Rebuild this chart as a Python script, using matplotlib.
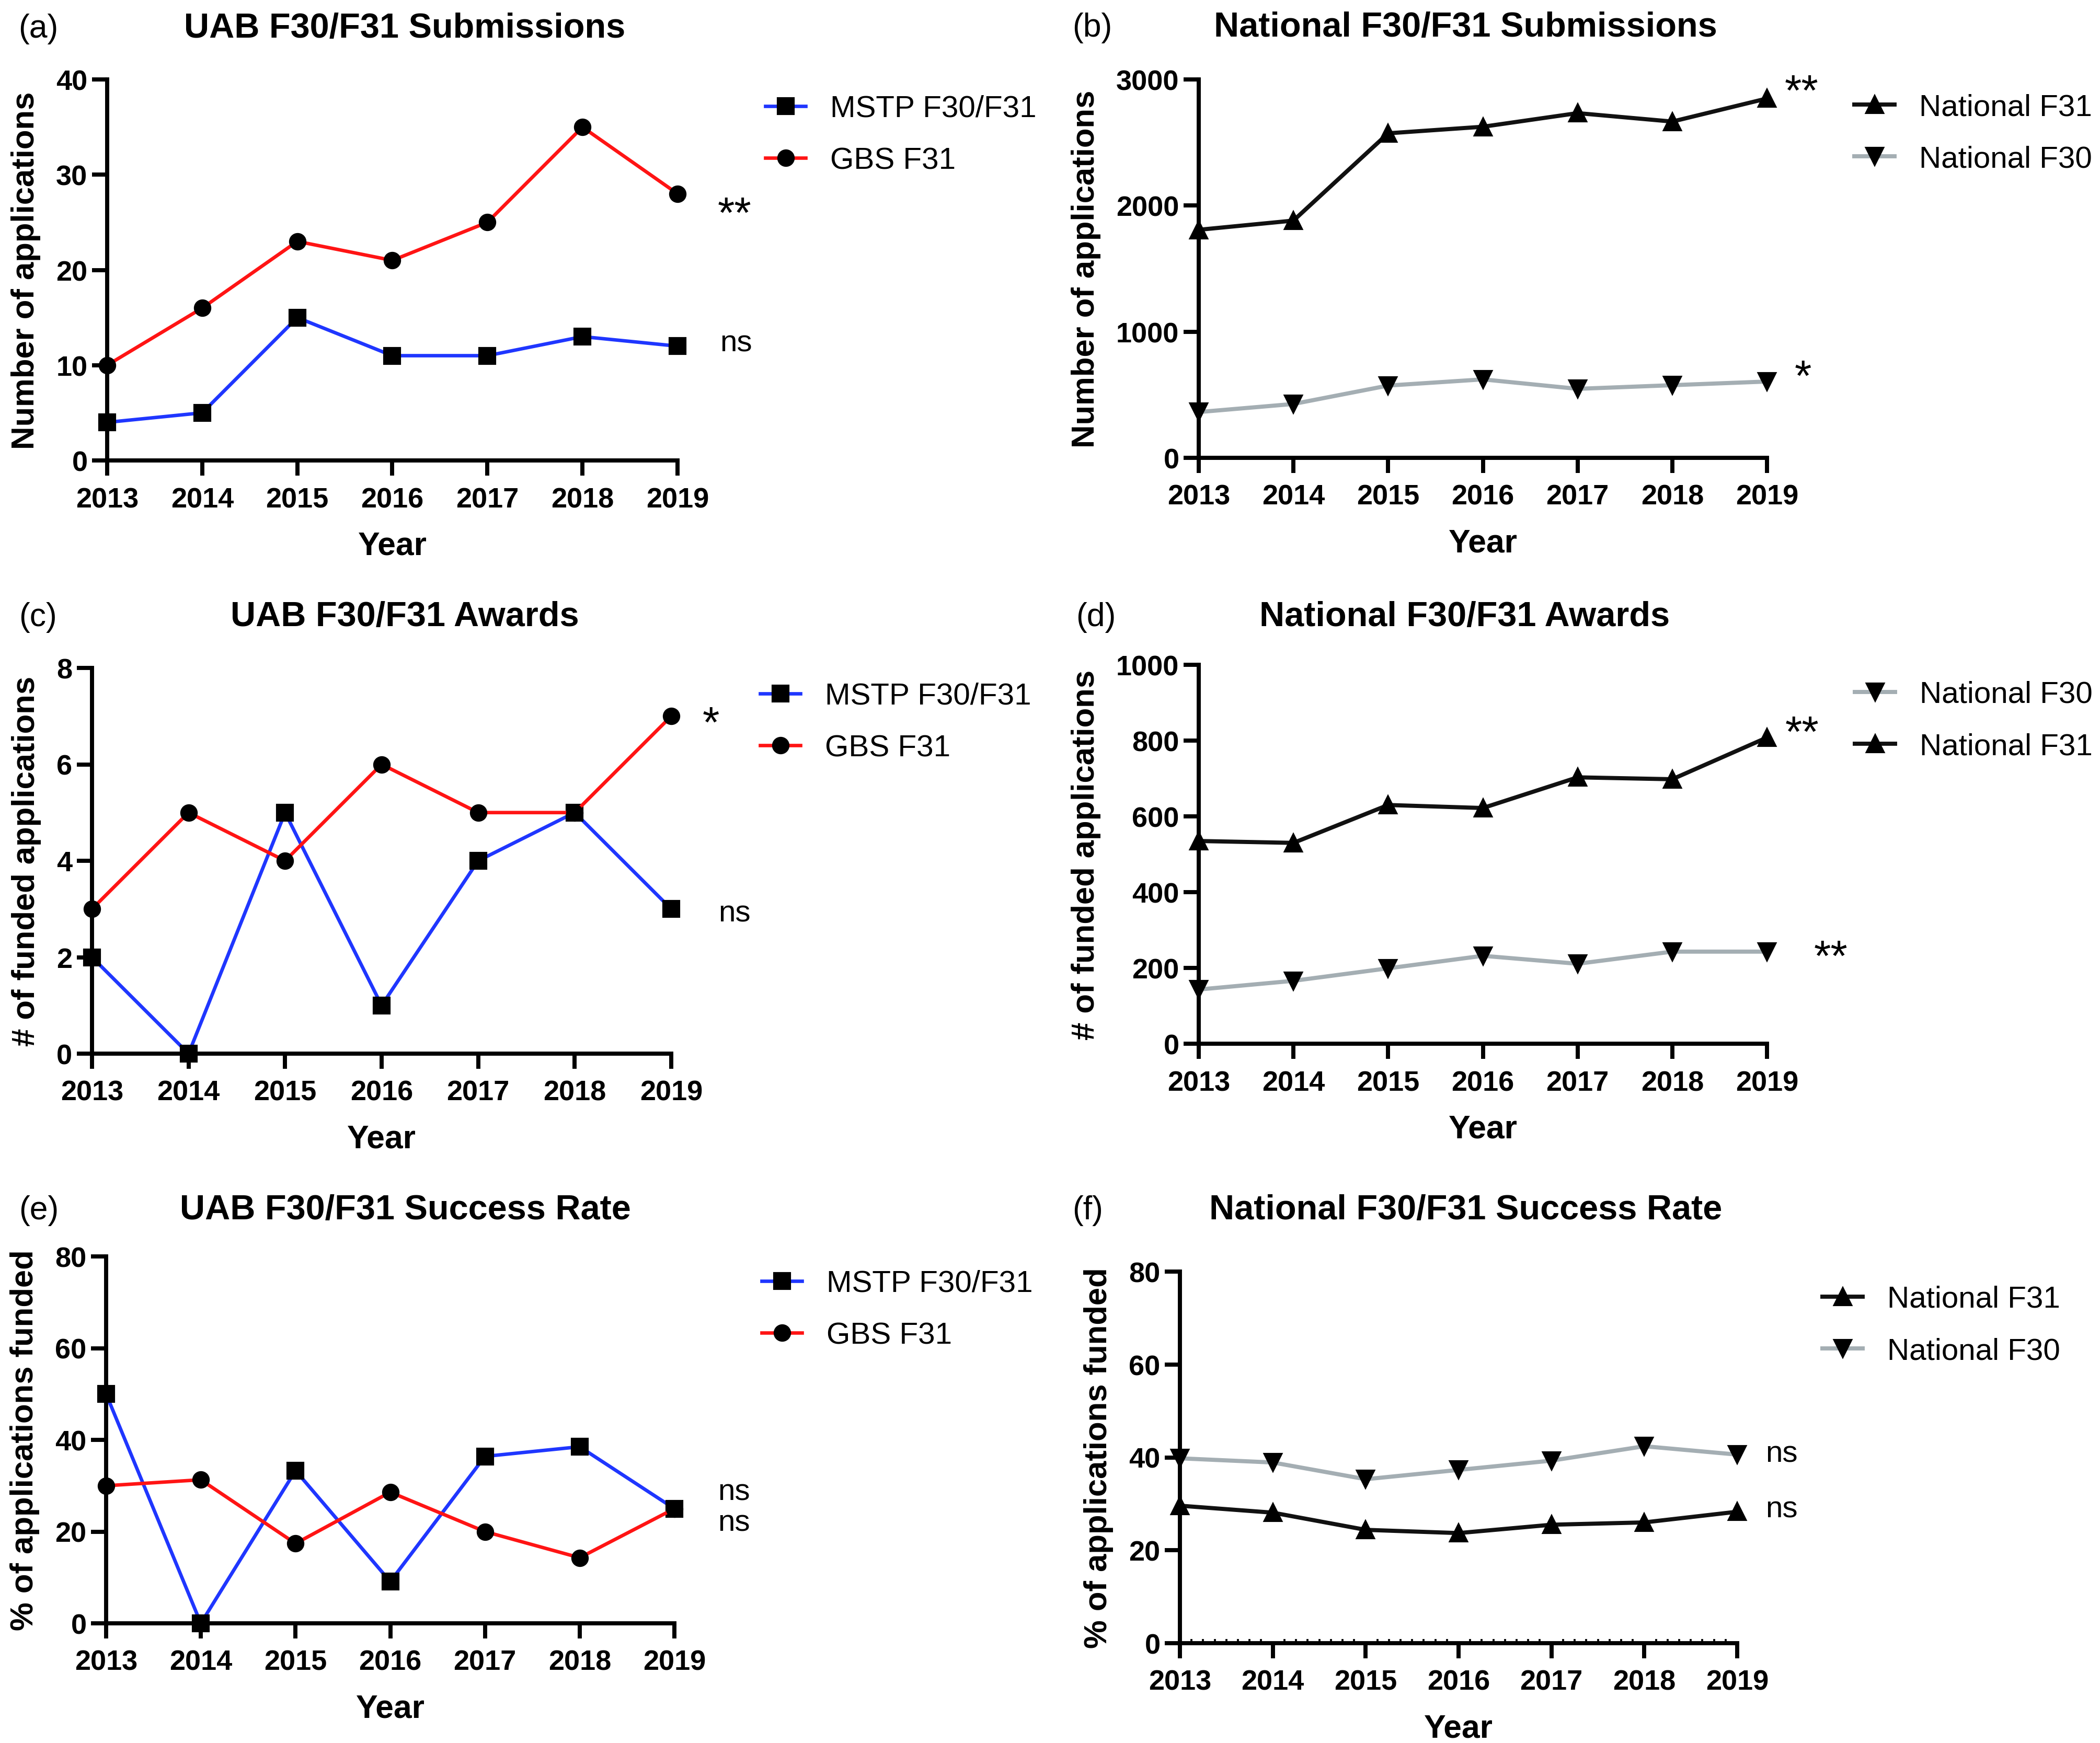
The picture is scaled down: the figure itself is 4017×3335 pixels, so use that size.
import matplotlib
matplotlib.use("Agg")
import matplotlib.pyplot as plt
from matplotlib.ticker import MultipleLocator

plt.rcParams['font.family'] = ['Liberation Sans', 'DejaVu Sans']

# ---------------- data ----------------
years = [2013, 2014, 2015, 2016, 2017, 2018, 2019]

uab_sub_mstp = [4, 5, 15, 11, 11, 13, 12]
uab_sub_gbs = [10, 16, 23, 21, 25, 35, 28]

nat_sub_f31 = [1808, 1881, 2573, 2625, 2733, 2666, 2849]
nat_sub_f30 = [363, 427, 573, 622, 547, 576, 605]

uab_awd_mstp = [2, 0, 5, 1, 4, 5, 3]
uab_awd_gbs = [3, 5, 4, 6, 5, 5, 7]

nat_awd_f31 = [535, 530, 630, 622, 703, 698, 808]
nat_awd_f30 = [143, 166, 199, 232, 211, 243, 243]

uab_rate_mstp = [50.0, 0.0, 33.3, 9.1, 36.4, 38.5, 25.0]
uab_rate_gbs = [30.0, 31.3, 17.4, 28.6, 20.0, 14.3, 25.0]

nat_rate_f31 = [29.6, 28.1, 24.4, 23.7, 25.5, 26.0, 28.3]
nat_rate_f30 = [39.8, 38.9, 35.3, 37.3, 39.3, 42.4, 40.6]

titles = ["UAB F30/F31 Submissions", "National F30/F31 Submissions",
          "UAB F30/F31 Awards", "National F30/F31 Awards",
          "UAB F30/F31 Success Rate", "National F30/F31 Success Rate"]
panel_tags = ["(a)", "(b)", "(c)", "(d)", "(e)", "(f)"]
ylabels = ["Number of applications", "Number of applications",
           "# of funded applications", "# of funded applications",
           "% of applications funded", "% of applications funded"]
yticks = [[0, 10, 20, 30, 40], [0, 1000, 2000, 3000],
          [0, 2, 4, 6, 8], [0, 200, 400, 600, 800, 1000],
          [0, 20, 40, 60, 80], [0, 20, 40, 60, 80]]

# annotations: (text, y, x-offset in points)
annots = [
    [("**", 24.5, 18.5), ("ns", 11.5, 19.5)],
    [("**", 2797, 8), ("*", 535, 12.7)],
    [("*", 6.57, 14.4), ("ns", 2.75, 21.6)],
    [("**", 785, 8.4), ("**", 194, 21.6)],
    [("ns", 27.0, 20), ("ns", 20.2, 20)],
    [("ns", 39.1, 13), ("ns", 27.2, 13)],
]

# ---------------- style ----------------
BLUE = '#1f36ff'
RED = '#ff1414'
GREY = '#a4aeb3'
BLACK = '#111111'

W, H = 4017, 3336
DPI = 300
fig = plt.figure(figsize=(W / DPI, H / DPI), dpi=DPI)

def rect(l, r, t, b):
    return [l / W, 1 - b / H, (r - l) / W, (b - t) / H]

axes_px = [
    (205, 1296, 153, 882),
    (2293, 3380, 153, 877),
    (176, 1284, 1279, 2017),
    (2293, 3380, 1273, 1998),
    (203, 1290, 2405, 3107),
    (2257, 3323, 2434, 3145),
]
title_px = [(774, 72), (2803, 70), (774, 1198), (2802, 1198), (775, 2333), (2804, 2333)]
tag_px = [(35, 72), (2051, 70), (36, 1198), (2058, 1198), (36, 2333), (2051, 2333)]
legend_px = [(1464, 204), (3547, 201), (1454, 1328), (3548, 1325), (1457, 2452), (3486, 2482)]

series = [
    [(uab_sub_mstp, BLUE, 's', 'MSTP F30/F31', 1.6), (uab_sub_gbs, RED, 'o', 'GBS F31', 1.6)],
    [(nat_sub_f31, BLACK, '^', 'National F31', 1.9), (nat_sub_f30, GREY, 'v', 'National F30', 1.9)],
    [(uab_awd_mstp, BLUE, 's', 'MSTP F30/F31', 1.6), (uab_awd_gbs, RED, 'o', 'GBS F31', 1.6)],
    [(nat_awd_f30, GREY, 'v', 'National F30', 1.9), (nat_awd_f31, BLACK, '^', 'National F31', 1.9)],
    [(uab_rate_mstp, BLUE, 's', 'MSTP F30/F31', 1.6), (uab_rate_gbs, RED, 'o', 'GBS F31', 1.6)],
    [(nat_rate_f31, BLACK, '^', 'National F31', 1.9), (nat_rate_f30, GREY, 'v', 'National F30', 1.9)],
]

for i in range(6):
    l, r, t, b = axes_px[i]
    ax = fig.add_axes(rect(l, r, t, b))
    for vals, col, mk, lab, lw in series[i]:
        ms = 7 if mk in ('s', 'o') else 7.8
        ax.plot(years, vals, color=col, lw=lw, marker=mk, ms=ms,
                markerfacecolor='black', markeredgecolor='black',
                label=lab, clip_on=False, zorder=3)
    ax.set_xlim(2013, 2019)
    ax.set_ylim(yticks[i][0], yticks[i][-1])
    ax.set_xticks(years)
    ax.set_yticks(yticks[i])
    for s in ('top', 'right'):
        ax.spines[s].set_visible(False)
    for s in ('left', 'bottom'):
        ax.spines[s].set_linewidth(1.9)
        ax.spines[s].set_color('black')
    ax.tick_params(axis='both', direction='out', length=7, width=1.9,
                   labelsize=13, color='black')
    ax.tick_params(axis='x', pad=5)
    ax.tick_params(axis='y', pad=2)
    for lbl in ax.get_xticklabels() + ax.get_yticklabels():
        lbl.set_fontweight('bold')
    if i == 5:
        ax.xaxis.set_minor_locator(MultipleLocator(0.125))
        ax.tick_params(axis='x', which='minor', direction='in', length=2, width=0.9)
    ax.set_xlabel("Year", fontsize=15, fontweight='bold', labelpad=8)
    ax.set_ylabel(ylabels[i], fontsize=14.8, fontweight='bold', labelpad=7)

    for txt, yv, dx in annots[i]:
        fs = 20 if '*' in txt else 14
        ax.annotate(txt, xy=(2019, yv), xytext=(dx, 0), textcoords='offset points',
                    ha='left', va='baseline', fontsize=fs, annotation_clip=False)

    tx, ty = title_px[i]
    fig.text(tx / W, 1 - ty / H, titles[i], ha='center', va='baseline',
             fontsize=16, fontweight='bold')
    gx, gy = tag_px[i]
    fig.text(gx / W, 1 - gy / H, panel_tags[i], ha='left', va='baseline', fontsize=15)

    hx, hy = legend_px[i]
    ax.legend(loc='upper left', bbox_to_anchor=(hx / W, 1 - (hy - 22) / H),
              bbox_transform=fig.transFigure, frameon=False, fontsize=14,
              borderpad=0, borderaxespad=0, handlelength=1.32, handletextpad=0.8,
              labelspacing=0.78)

fig.savefig("out.png", dpi=DPI)
